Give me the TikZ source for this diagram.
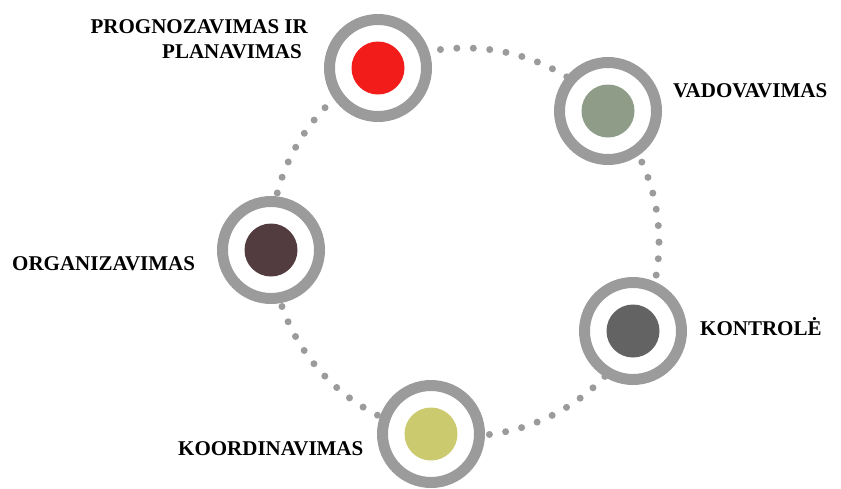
\documentclass[tikz,border=0pt]{standalone}
\usepackage{fontspec}
\setmainfont{Liberation Serif}
\definecolor{ringgray}{HTML}{9B9B9B}
\definecolor{dotgray}{HTML}{9B9B9B}
\definecolor{cred}{HTML}{F21D1B}
\definecolor{csage}{HTML}{8E9C88}
\definecolor{cbrown}{HTML}{533C3F}
\definecolor{cslate}{HTML}{636363}
\definecolor{colive}{HTML}{CCCA6E}
\tikzset{
  ring/.style={circle, draw=ringgray, line width=11pt, fill=white, minimum size=97pt, inner sep=0pt},
  core/.style={circle, fill=#1, minimum size=53pt, inner sep=0pt},
  label/.style={font=\fontsize{21}{25}\selectfont\bfseries, inner sep=0pt},
  dotring/.style={dotgray, line width=7pt, line cap=round, dash pattern=on 0pt off 16.47pt}
}
\begin{document}
\begin{tikzpicture}[x=1pt,y=-1pt]
  \useasboundingbox (0,0) rectangle (841,488);
  \coordinate (hub) at (465,242);
  % dotted cycle joining the five stages
  \draw[dotring] (hub) circle[radius=194pt];

  % stages
  \node[ring] (plan) at (378,68) {};
  \node[core=cred] (planc) at (plan) {};
  \node[ring] (lead) at (608,111) {};
  \node[core=csage] (leadc) at (lead) {};
  \node[ring] (org) at (271,250) {};
  \node[core=cbrown] (orgc) at (org) {};
  \node[ring] (ctrl) at (633,331) {};
  \node[core=cslate] (ctrlc) at (ctrl) {};
  \node[ring] (coord) at (431,434) {};
  \node[core=colive] (coordc) at (coord) {};

  % labels
  \node[label, anchor=base east] (planl1) at (308,33) {PROGNOZAVIMAS IR};
  \node[label, anchor=base east] (planl2) at (302,58) {PLANAVIMAS};
  \node[label, anchor=base west] (leadl) at (673,97) {VADOVAVIMAS};
  \node[label, anchor=base west] (orgl) at (12,270) {ORGANIZAVIMAS};
  \node[label, anchor=base west] (ctrll) at (700,335) {KONTROLĖ};
  \node[label, anchor=base west] (coordl) at (178,455) {KOORDINAVIMAS};
\end{tikzpicture}
\end{document}
